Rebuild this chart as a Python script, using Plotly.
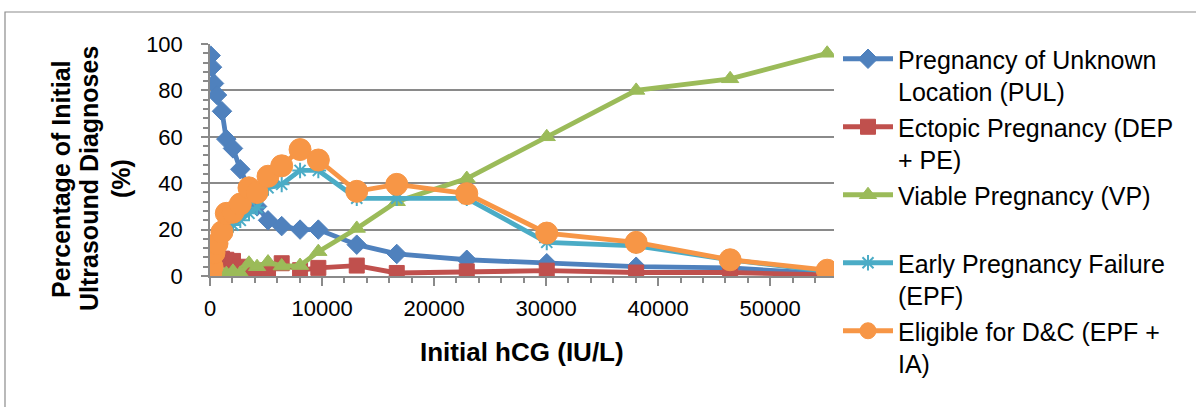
import plotly.graph_objects as go

# ---- data ----
hcg = [60, 180, 360, 625, 1070, 1455, 2050, 2705, 3480, 4200, 5180, 6400,
       8040, 9670, 13100, 16670, 22920, 30060, 38040, 46430, 55090]
pul = [95, 90, 83, 78, 71, 59, 55, 46, 38, 30, 24, 21.5, 20, 20, 13.5, 9.5,
       7, 5.5, 4, 3.5, 1]
ectopic = [10, 7, 6, 8, 7.5, 7, 6.5, 4, 2, 1.2, 2.5, 5.5, 2.5, 3.5, 4.5, 1.3,
           2, 2.3, 1.5, 1.5, 0.5]
viable = [0, 0, 0.5, 1, 1, 1, 2, 1.2, 5.5, 4, 6, 4.3, 4.5, 10.5, 20.5, 32,
          42, 60, 80, 85, 96]
epf = [1, 3, 8, 11, 16, 20, 22, 24, 27, 29.5, 38, 39.5, 45.5, 45.5, 33.5,
       33.5, 33.5, 14.5, 13, 7, 2]
dc = [1, 4, 10, 14, 19, 27, 27.5, 31, 38, 36, 43, 47.5, 54.5, 50, 36.5, 39.5,
      35.5, 18.5, 14.5, 7, 2.5]

names = [
    "Pregnancy of Unknown<br>Location (PUL)",
    "Ectopic Pregnancy (DEP<br>+ PE)",
    "Viable Pregnancy (VP)<br>\u00a0",
    "Early Pregnancy Failure<br>(EPF)",
    "Eligible for D&C (EPF +<br>IA)",
]
y_title_lines = ["Percentage of Initial", "Ultrasound Diagnoses", "(%)"]
x_title = "Initial hCG (IU/L)"

series = [pul, ectopic, viable, epf, dc]
colors = ["#4F81BD", "#C0504D", "#9BBB59", "#4BACC6", "#F79646"]
symbols = ["diamond", "square", "triangle-up", "asterisk-open", "circle"]
sizes = [15, 15, 15, 13, 22]

FONT = "Arial, Liberation Sans, sans-serif"
GRID = "#8a8a8a"

# plot-area geometry in pixels
L, R, T, B = 210, 834, 44, 276
W, H = 1196, 407
PW, PH = R - L, B - T


def px(xp):
    return (xp - L) / PW


def py(yp):
    return (B - yp) / PH


fig = go.Figure()
for nm, ys, c, s, sz in zip(names, series, colors, symbols, sizes):
    mk = dict(symbol=s, size=sz, color=c)
    if s == "asterisk-open":
        mk["line"] = dict(color=c, width=2)
    else:
        mk["line"] = dict(color=c, width=1)
    fig.add_trace(go.Scatter(
        x=hcg, y=ys, name=nm, mode="lines+markers",
        line=dict(color=c, width=4.8), marker=mk,
    ))

annotations = [
    dict(text="<b>%s</b>" % x_title, xref="paper", yref="paper",
         x=0.5, y=py(352), xanchor="center", yanchor="middle",
         showarrow=False, font=dict(family=FONT, size=26)),
]
for line, xc in zip(y_title_lines, [61, 89, 121]):
    annotations.append(dict(
        text="<b>%s</b>" % line, xref="paper", yref="paper",
        x=px(xc), y=py(179), xanchor="center", yanchor="middle",
        textangle=-90, showarrow=False, font=dict(family=FONT, size=25)))

fig.update_layout(
    width=W, height=H,
    margin=dict(l=L, r=W - R, t=T, b=H - B, autoexpand=False),
    paper_bgcolor="white", plot_bgcolor="white",
    font=dict(family=FONT, size=22, color="black"),
    showlegend=True,
    legend=dict(
        x=px(838), xanchor="left", y=py(36), yanchor="top",
        font=dict(family=FONT, size=25, color="black"),
        valign="top", itemwidth=50, tracegroupgap=0, maxheight=400,
        bgcolor="rgba(0,0,0,0)",
    ),
    xaxis=dict(
        range=[0, 55700], dtick=10000, tick0=0, tickformat="d",
        showgrid=False, zeroline=False,
        showline=True, linecolor=GRID, linewidth=1.5,
        ticks="outside", ticklen=8, tickcolor=GRID, tickwidth=1.5,
        minor=dict(dtick=2000, ticks="outside", ticklen=5,
                   tickcolor=GRID, tickwidth=1.5, showgrid=False),
        tickfont=dict(size=22), ticklabelstandoff=4,
    ),
    yaxis=dict(
        range=[0, 100], dtick=20, tick0=0,
        showgrid=True, gridcolor=GRID, gridwidth=1.5,
        zeroline=False, showline=True, linecolor=GRID, linewidth=1.5,
        ticks="outside", ticklen=7, tickcolor=GRID, tickwidth=1.5,
        minor=dict(dtick=4, ticks="outside", ticklen=5,
                   tickcolor=GRID, tickwidth=1.5, showgrid=False),
        tickfont=dict(size=22), ticklabelstandoff=14,
    ),
    shapes=[dict(type="rect", xref="paper", yref="paper",
                 x0=px(5), x1=px(1210), y0=py(420), y1=py(12),
                 line=dict(color="#8c8c8c", width=1.2), layer="below")],
    annotations=annotations,
)

fig.write_html("out.html",
               config={"displayModeBar": False},
               post_script="document.body.style.margin='0';")
